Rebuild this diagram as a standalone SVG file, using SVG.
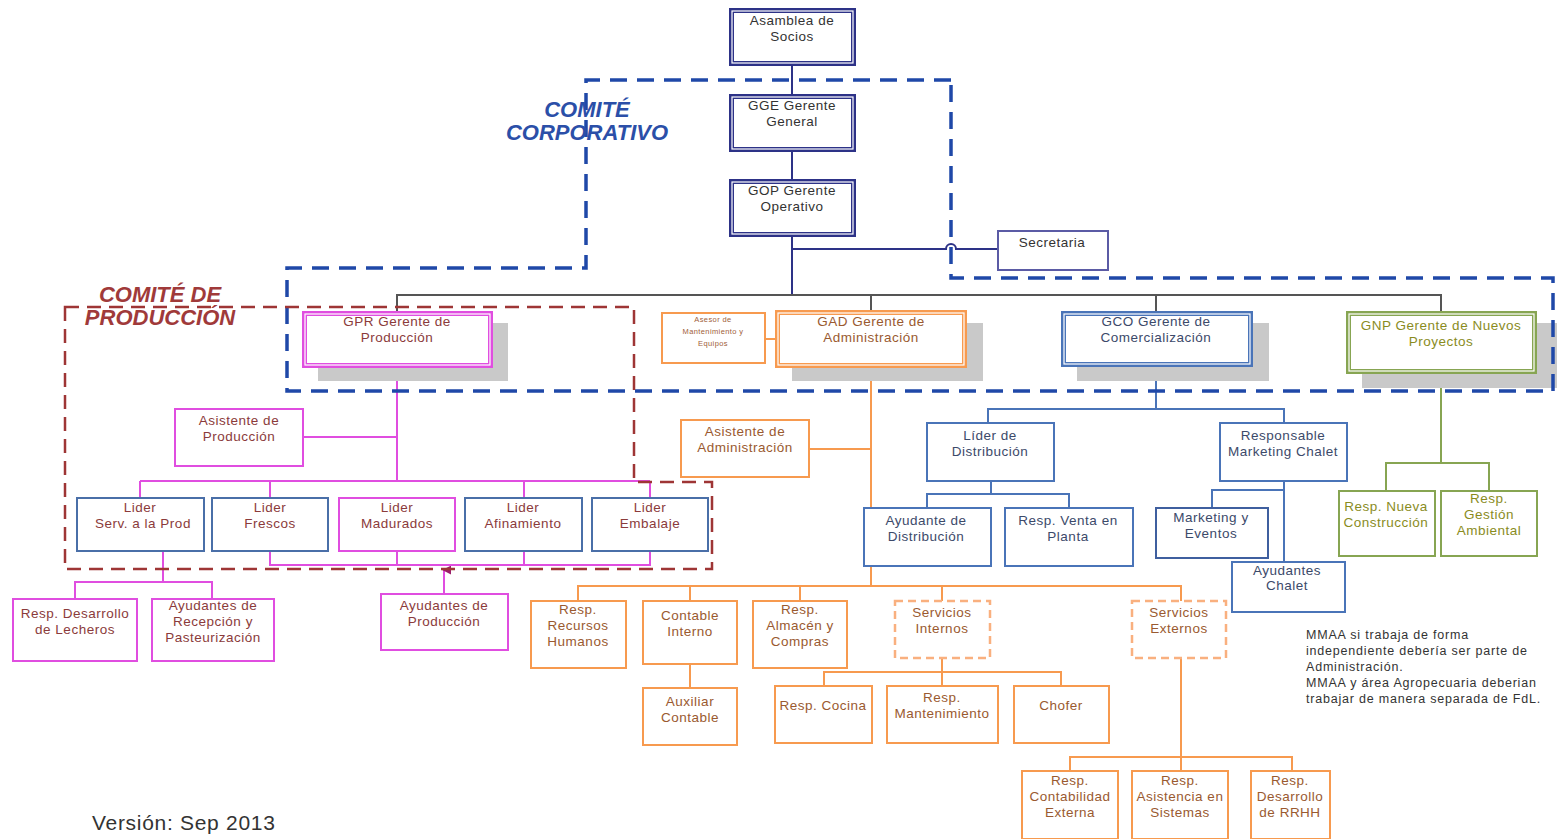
<svg xmlns="http://www.w3.org/2000/svg" width="1559" height="839" viewBox="0 0 1559 839">
  <style>
    text { font-family: "Liberation Sans", Arial, sans-serif; }
    .t { font-size: 13.5px; letter-spacing: 0.5px; text-anchor: middle; }
    .tiny { font-size: 7.5px; letter-spacing: 0.4px; text-anchor: middle; fill: #a0603a; }
    .dark { fill: #333333; }
    .prod { fill: #8b3b3b; }
    .adm { fill: #9a5a30; }
    .com { fill: #3c4a6a; }
    .grn { fill: #8a8c1e; }
    .box { fill: #ffffff; stroke-width: 2; }
    .dbl { fill: #ffffff; stroke-width: 5; }
    .gap { fill: none; stroke: #ffffff; stroke-width: 1.2; }
    .shadow { fill: #c9c9c9; }
    .navy { stroke: #2d3287; }
    .mag { stroke: #e04ee0; }
    .org { stroke: #f79a4f; }
    .blu { stroke: #4a74b8; }
    .lblu { stroke: #4a6fa8; }
    .grnS { stroke: #87a552; }
    .svc { fill: #ffffff; stroke: #f9b07f; stroke-width: 2.5; stroke-dasharray: 8 5; }
    .ln { fill: none; stroke-width: 2; }
    .bus { fill: none; stroke: #555555; stroke-width: 2; }
    .frameB { fill: none; stroke: #1f48a8; stroke-width: 3.5; stroke-dasharray: 17 10; }
    .frameR { fill: none; stroke: #9e3535; stroke-width: 2.5; stroke-dasharray: 14 8; }
    .lblB { font-size: 22px; font-weight: bold; font-style: italic; fill: #2b4fa8; text-anchor: middle; }
    .lblR { font-size: 22px; font-weight: bold; font-style: italic; fill: #a03a3a; text-anchor: middle; }
    .note { font-size: 12.5px; letter-spacing: 0.8px; fill: #333333; }
  </style>
  <defs>
    <marker id="arrowUp" viewBox="0 0 10 10" refX="5" refY="2" markerWidth="9" markerHeight="9" orient="auto-start-reverse" markerUnits="userSpaceOnUse">
      <path d="M0 10 L5 0 L10 10 Z" fill="#9b1f6b"/>
    </marker>
  </defs>

  <rect width="1559" height="839" fill="#ffffff"/>

  <!-- connectors -->
  <g id="connectors">
    <!-- top chain -->
    <path class="ln navy" d="M792 66 V94 M792 152 V179 M792 236 V295"/>
    <path class="ln" stroke="#2d3287" d="M792 249 H946 a5 5 0 0 1 10 0 H997"/>
    <!-- main bus -->
    <path class="bus" d="M397 311 V295 H1441 V311 M871 295 V311 M1156 295 V311"/>
    <!-- production -->
    <path class="ln mag" d="M397 367 V481 M303 437 H397 M140 481 H650 M140 481 V498 M270 481 V498 M524 481 V498 M650 481 V498"/>
    <path class="ln mag" d="M270 551 V565 H650 V551 M397 551 V565 M524 551 V565"/>
    <path class="ln mag" d="M163 551 V582 M75 598 V582 H212 V598"/>
    <path class="ln mag" d="M444 593 V570" marker-end="url(#arrowUp)"/>
    <!-- administration -->
    <path class="ln org" d="M765 339 H776 M871 367 V586 M809 449 H871"/>
    <path class="ln org" d="M578 601 V586 H1181 V601 M690 586 V601 M800 586 V601 M942 586 V601"/>
    <path class="ln org" d="M690 664 V688"/>
    <path class="ln org" d="M942 658 V672 M824 686 V672 H1061 V686 M942 672 V686"/>
    <path class="ln org" d="M1181 658 V771 M1070 771 V757 H1292 V771"/>
    <!-- commercial -->
    <path class="ln blu" d="M1156 367 V409 M988 423 V409 H1284 V423"/>
    <path class="ln blu" d="M991 481 V494 M927 508 V494 H1069 V508"/>
    <path class="ln blu" d="M1284 481 V562 M1212 508 V490 H1284"/>
    <!-- new projects -->
    <path class="ln grnS" d="M1441 374 V463 M1386 491 V463 H1489 V491"/>
  </g>

  <!-- shadows of second-level managers -->
  <g id="shadows">
    <rect class="shadow" x="318" y="323" width="190" height="58"/>
    <rect class="shadow" x="792" y="323" width="191" height="58"/>
    <rect class="shadow" x="1077" y="323" width="192" height="58"/>
    <rect class="shadow" x="1362" y="323" width="195" height="65"/>
  </g>

  <!-- top management -->
  <g id="asamblea">
    <rect class="dbl navy" x="731.5" y="10.5" width="122" height="53"/>
    <rect class="gap" x="732" y="11" width="121" height="52"/>
    <text class="t dark"><tspan x="792" y="25">Asamblea de</tspan><tspan x="792" y="41">Socios</tspan></text>
  </g>
  <g id="gge">
    <rect class="dbl navy" x="731.5" y="96.5" width="122" height="53"/>
    <rect class="gap" x="732" y="97" width="121" height="52"/>
    <text class="t dark"><tspan x="792" y="110">GGE Gerente</tspan><tspan x="792" y="126">General</tspan></text>
  </g>
  <g id="gop">
    <rect class="dbl navy" x="731.5" y="181.5" width="122" height="53"/>
    <rect class="gap" x="732" y="182" width="121" height="52"/>
    <text class="t dark"><tspan x="792" y="195">GOP Gerente</tspan><tspan x="792" y="211">Operativo</tspan></text>
  </g>
  <g id="secretaria">
    <rect class="box" stroke="#5b5ba5" x="998" y="231" width="110" height="39"/>
    <text class="t dark" x="1052" y="247">Secretaria</text>
  </g>

  <!-- production -->
  <g id="gpr">
    <rect class="dbl mag" x="304.5" y="313.5" width="186" height="52"/>
    <rect class="gap" x="305" y="314" width="185" height="51"/>
    <text class="t prod"><tspan x="397" y="326">GPR Gerente de</tspan><tspan x="397" y="342">Producción</tspan></text>
  </g>
  <g id="asistente-produccion">
    <rect class="box mag" x="175" y="409" width="128" height="57"/>
    <text class="t prod"><tspan x="239" y="425">Asistente de</tspan><tspan x="239" y="441">Producción</tspan></text>
  </g>
  <g id="lider-serv">
    <rect class="box lblu" x="77" y="498" width="127" height="53"/>
    <text class="t prod"><tspan x="140" y="512">Lider</tspan><tspan x="143" y="528">Serv. a la Prod</tspan></text>
  </g>
  <g id="lider-frescos">
    <rect class="box lblu" x="212" y="498" width="116" height="53"/>
    <text class="t prod"><tspan x="270" y="512">Lider</tspan><tspan x="270" y="528">Frescos</tspan></text>
  </g>
  <g id="lider-madurados">
    <rect class="box mag" x="339" y="498" width="116" height="53"/>
    <text class="t prod"><tspan x="397" y="512">Lider</tspan><tspan x="397" y="528">Madurados</tspan></text>
  </g>
  <g id="lider-afinamiento">
    <rect class="box lblu" x="465" y="498" width="117" height="53"/>
    <text class="t prod"><tspan x="523" y="512">Lider</tspan><tspan x="523" y="528">Afinamiento</tspan></text>
  </g>
  <g id="lider-embalaje">
    <rect class="box lblu" x="592" y="498" width="116" height="53"/>
    <text class="t prod"><tspan x="650" y="512">Lider</tspan><tspan x="650" y="528">Embalaje</tspan></text>
  </g>
  <g id="resp-lecheros">
    <rect class="box mag" x="13" y="599" width="124" height="62"/>
    <text class="t prod"><tspan x="75" y="618">Resp. Desarrollo</tspan><tspan x="75" y="634">de Lecheros</tspan></text>
  </g>
  <g id="ayudantes-recepcion">
    <rect class="box mag" x="152" y="599" width="122" height="62"/>
    <text class="t prod"><tspan x="213" y="610">Ayudantes de</tspan><tspan x="213" y="626">Recepción y</tspan><tspan x="213" y="642">Pasteurización</tspan></text>
  </g>
  <g id="ayudantes-produccion">
    <rect class="box mag" x="381" y="594" width="127" height="56"/>
    <text class="t prod"><tspan x="444" y="610">Ayudantes de</tspan><tspan x="444" y="626">Producción</tspan></text>
  </g>

  <!-- administration -->
  <g id="asesor">
    <rect class="box org" x="662" y="313" width="103" height="50"/>
    <text class="tiny"><tspan x="713" y="322">Asesor de</tspan><tspan x="713" y="334">Mantenimiento y</tspan><tspan x="713" y="346">Equipos</tspan></text>
  </g>
  <g id="gad">
    <rect class="dbl org" x="777.5" y="312.5" width="187" height="53"/>
    <rect class="gap" x="778" y="313" width="186" height="52"/>
    <text class="t adm"><tspan x="871" y="326">GAD Gerente de</tspan><tspan x="871" y="342">Administración</tspan></text>
  </g>
  <g id="asistente-administracion">
    <rect class="box org" x="681" y="420" width="128" height="57"/>
    <text class="t adm"><tspan x="745" y="436">Asistente de</tspan><tspan x="745" y="452">Administración</tspan></text>
  </g>
  <g id="resp-rrhh">
    <rect class="box org" x="531" y="601" width="95" height="67"/>
    <text class="t adm"><tspan x="578" y="614">Resp.</tspan><tspan x="578" y="630">Recursos</tspan><tspan x="578" y="646">Humanos</tspan></text>
  </g>
  <g id="contable-interno">
    <rect class="box org" x="643" y="601" width="94" height="63"/>
    <text class="t adm"><tspan x="690" y="620">Contable</tspan><tspan x="690" y="636">Interno</tspan></text>
  </g>
  <g id="resp-almacen">
    <rect class="box org" x="753" y="601" width="94" height="67"/>
    <text class="t adm"><tspan x="800" y="614">Resp.</tspan><tspan x="800" y="630">Almacén y</tspan><tspan x="800" y="646">Compras</tspan></text>
  </g>
  <g id="servicios-internos">
    <rect class="svc" x="895" y="601" width="95" height="57"/>
    <text class="t adm"><tspan x="942" y="617">Servicios</tspan><tspan x="942" y="633">Internos</tspan></text>
  </g>
  <g id="servicios-externos">
    <rect class="svc" x="1132" y="601" width="94" height="57"/>
    <text class="t adm"><tspan x="1179" y="617">Servicios</tspan><tspan x="1179" y="633">Externos</tspan></text>
  </g>
  <g id="auxiliar-contable">
    <rect class="box org" x="643" y="688" width="94" height="57"/>
    <text class="t adm"><tspan x="690" y="706">Auxiliar</tspan><tspan x="690" y="722">Contable</tspan></text>
  </g>
  <g id="resp-cocina">
    <rect class="box org" x="775" y="686" width="97" height="57"/>
    <text class="t adm" x="823" y="710">Resp. Cocina</text>
  </g>
  <g id="resp-mantenimiento">
    <rect class="box org" x="887" y="686" width="111" height="57"/>
    <text class="t adm"><tspan x="942" y="702">Resp.</tspan><tspan x="942" y="718">Mantenimiento</tspan></text>
  </g>
  <g id="chofer">
    <rect class="box org" x="1014" y="686" width="95" height="57"/>
    <text class="t adm" x="1061" y="710">Chofer</text>
  </g>
  <g id="resp-contabilidad-externa">
    <rect class="box org" x="1022" y="771" width="96" height="68"/>
    <text class="t adm"><tspan x="1070" y="785">Resp.</tspan><tspan x="1070" y="801">Contabilidad</tspan><tspan x="1070" y="817">Externa</tspan></text>
  </g>
  <g id="resp-asistencia-sistemas">
    <rect class="box org" x="1132" y="771" width="96" height="68"/>
    <text class="t adm"><tspan x="1180" y="785">Resp.</tspan><tspan x="1180" y="801">Asistencia en</tspan><tspan x="1180" y="817">Sistemas</tspan></text>
  </g>
  <g id="resp-desarrollo-rrhh">
    <rect class="box org" x="1251" y="771" width="79" height="68"/>
    <text class="t adm"><tspan x="1290" y="785">Resp.</tspan><tspan x="1290" y="801">Desarrollo</tspan><tspan x="1290" y="817">de RRHH</tspan></text>
  </g>

  <!-- commercial -->
  <g id="gco">
    <rect class="dbl blu" x="1063.5" y="313.5" width="187" height="51"/>
    <rect class="gap" x="1064" y="314" width="186" height="50"/>
    <text class="t com"><tspan x="1156" y="326">GCO Gerente de</tspan><tspan x="1156" y="342">Comercialización</tspan></text>
  </g>
  <g id="lider-distribucion">
    <rect class="box blu" x="927" y="423" width="127" height="58"/>
    <text class="t com"><tspan x="990" y="440">Líder de</tspan><tspan x="990" y="456">Distribución</tspan></text>
  </g>
  <g id="resp-marketing-chalet">
    <rect class="box blu" x="1220" y="423" width="127" height="58"/>
    <text class="t com"><tspan x="1283" y="440">Responsable</tspan><tspan x="1283" y="456">Marketing Chalet</tspan></text>
  </g>
  <g id="ayudante-distribucion">
    <rect class="box blu" x="864" y="508" width="127" height="58"/>
    <text class="t com"><tspan x="926" y="525">Ayudante de</tspan><tspan x="926" y="541">Distribución</tspan></text>
  </g>
  <g id="resp-venta-planta">
    <rect class="box blu" x="1005" y="508" width="128" height="58"/>
    <text class="t com"><tspan x="1068" y="525">Resp. Venta en</tspan><tspan x="1068" y="541">Planta</tspan></text>
  </g>
  <g id="marketing-eventos">
    <rect class="box" stroke="#3f5f9f" x="1156" y="508" width="112" height="50"/>
    <text class="t com"><tspan x="1211" y="522">Marketing y</tspan><tspan x="1211" y="538">Eventos</tspan></text>
  </g>
  <g id="ayudantes-chalet">
    <rect class="box blu" x="1232" y="562" width="113" height="50"/>
    <text class="t com"><tspan x="1287" y="575">Ayudantes</tspan><tspan x="1287" y="590">Chalet</tspan></text>
  </g>

  <!-- new projects -->
  <g id="gnp">
    <rect class="dbl grnS" x="1348.5" y="313.5" width="186" height="58"/>
    <rect class="gap" x="1349" y="314" width="185" height="57"/>
    <text class="t grn"><tspan x="1441" y="330">GNP Gerente de Nuevos</tspan><tspan x="1441" y="346">Proyectos</tspan></text>
  </g>
  <g id="resp-nueva-construccion">
    <rect class="box grnS" x="1339" y="491" width="96" height="65"/>
    <text class="t grn"><tspan x="1386" y="511">Resp. Nueva</tspan><tspan x="1386" y="527">Construcción</tspan></text>
  </g>
  <g id="resp-gestion-ambiental">
    <rect class="box grnS" x="1441" y="491" width="96" height="65"/>
    <text class="t grn"><tspan x="1489" y="503">Resp.</tspan><tspan x="1489" y="519">Gestión</tspan><tspan x="1489" y="535">Ambiental</tspan></text>
  </g>

  <!-- committee frames -->
  <g id="comite-corporativo">
    <path class="frameB" d="M951 80 H586 V268 H287 V391 H1553 V278 H951 Z"/>
    <text class="lblB"><tspan x="587" y="117">COMITÉ</tspan><tspan x="587" y="140">CORPORATIVO</tspan></text>
  </g>
  <g id="comite-produccion">
    <path class="frameR" d="M65 307 H634 V482 H712 V569 H65 Z"/>
    <text class="lblR"><tspan x="160" y="302">COMITÉ DE</tspan><tspan x="160" y="325">PRODUCCIÓN</tspan></text>
  </g>

  <!-- remarks -->
  <g id="nota">
    <text class="note"><tspan x="1306" y="639">MMAA si trabaja de forma</tspan><tspan x="1306" y="655">independiente debería ser parte de</tspan><tspan x="1306" y="671">Administración.</tspan><tspan x="1306" y="687">MMAA y área Agropecuaria deberian</tspan><tspan x="1306" y="703">trabajar de manera separada de FdL.</tspan></text>
  </g>
  <g id="version">
    <text x="92" y="830" font-size="21" letter-spacing="0.7" fill="#333333">Versión: Sep 2013</text>
  </g>
</svg>
